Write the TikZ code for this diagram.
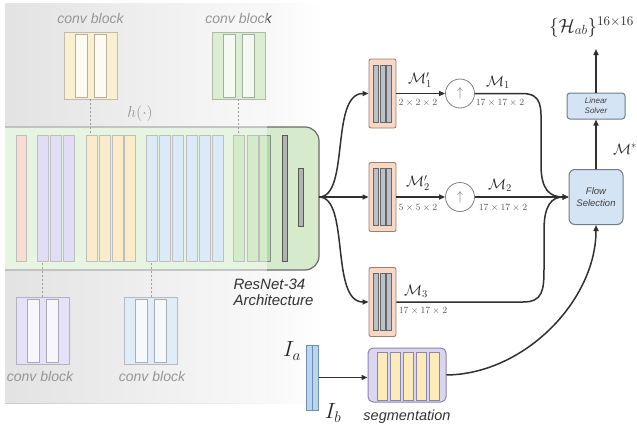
\RequirePackage{fix-cm}
\documentclass[tikz,border=0pt]{standalone}
\usepackage{fontspec}
\newfontfamily\arialf{Liberation Sans}
\usetikzlibrary{arrows.meta}
\definecolor{lc}{HTML}{303030}
\definecolor{ofill}{HTML}{F8D8C4}
\definecolor{obord}{HTML}{9A7F72}
\definecolor{gbar}{HTML}{BCC0C8}
\definecolor{fsfill}{HTML}{D4E4F4}
\definecolor{fsbord}{HTML}{6E7C8A}
\definecolor{segfill}{HTML}{DAD6F2}
\definecolor{segbord}{HTML}{8C86AE}
\definecolor{yel}{HTML}{FBEBB8}
\definecolor{ibfill}{HTML}{B8D6F0}
\definecolor{ibbord}{HTML}{6E8FB0}
\definecolor{rgreen}{HTML}{D5EBCB}
\definecolor{rbord}{HTML}{6A6A6A}
\definecolor{cOr}{HTML}{F2C2AE}
\definecolor{cPu}{HTML}{C8C2EE}
\definecolor{cYe}{HTML}{F6DE9E}
\definecolor{cBl}{HTML}{C0D8F0}
\definecolor{cGr}{HTML}{B2DCA0}
\definecolor{barl}{HTML}{8A8A8A}
\begin{document}
\begin{tikzpicture}[x=1pt,y=-1pt,
  rbar/.style={draw=barl, line width=0.8pt, minimum width=11pt, minimum height=126pt, inner sep=0pt},
  cblock/.style={line width=0.8pt, minimum width=53pt, minimum height=67pt, inner sep=0pt},
  cinner/.style={line width=0.8pt, minimum width=12pt, minimum height=63pt, inner sep=0pt},
  cbl/.style={font=\arialf\itshape\fontsize{14}{16}\selectfont, text=black!75},
  dlink/.style={draw=black!70, dash pattern=on 2pt off 2pt, line width=0.9pt},
  obox/.style={draw=obord, fill=ofill, rounded corners=2pt, minimum width=27pt, minimum height=69pt, line width=0.9pt, inner sep=0pt},
  obar/.style={draw=black!60, fill=gbar, minimum width=5pt, minimum height=57pt, inner sep=0pt, line width=0.6pt},
  flow/.style={-{Triangle[length=6pt,width=5pt]}, line width=1.5pt, draw=lc},
  upc/.style={circle, draw=black!50, fill=white, minimum size=29pt, inner sep=0pt, line width=0.8pt, text=black!55, font=\fontsize{13}{15}\selectfont},
  mlab/.style={font=\fontsize{15}{18}\selectfont, text=black!85, inner sep=0pt},
  dlab/.style={font=\fontsize{9.5}{11}\selectfont, text=black!65, inner sep=0pt},
  rbox/.style={draw=fsbord, fill=fsfill, line width=1pt, inner sep=0pt, text=black!75}]
\useasboundingbox (0,0) rectangle (637,431);
% background
\shade[left color=black!20, right color=black!4] (5,3) rectangle (267,403);
\shade[left color=black!3, right color=white] (267,3) rectangle (322,403);
% ResNet box
\begin{scope}
\clip (5,0) rectangle (400,431);
\draw[fill=rgreen, draw=rbord, line width=1.2pt, rounded corners=14pt] (-20,127) rectangle (319,270);
\end{scope}
% bars
\node[rbar, fill=cOr, minimum width=10pt] (b0) at (21,198) {};
\foreach \x [count=\i] in {42.5,55.5,68.5} \node[rbar, fill=cPu] (bp\i) at (\x,198) {};
\foreach \x [count=\i] in {91.5,104.5,117.5,130} \node[rbar, fill=cYe] (by\i) at (\x,198) {};
\foreach \x [count=\i] in {151.5,164.5,177.5,191.5,204.5,217.5} \node[rbar, fill=cBl] (bb\i) at (\x,198) {};
\foreach \x [count=\i] in {238.5,252.5,265} \node[rbar, fill=cGr] (bg\i) at (\x,198) {};
\node[rbar, fill=black!30, draw=black!65, minimum width=5pt] (t1) at (284.5,198) {};
\node[rbar, fill=black!30, draw=black!65, minimum width=5pt, minimum height=58pt] (t2) at (300.5,197) {};
% conv blocks
\node[cblock, fill=cYe!85, draw=cYe!60!black] (cy) at (90.5,65.5) {};
\node[cinner, fill=cYe!25, draw=cYe!50!black] (cy1) at (81,65.5) {};
\node[cinner, fill=cYe!25, draw=cYe!50!black] (cy2) at (100,65.5) {};
\node[cblock, fill=cGr!85, draw=cGr!60!black] (cg) at (238.5,65.5) {};
\node[cinner, fill=cGr!25, draw=cGr!50!black] (cg1) at (229,65.5) {};
\node[cinner, fill=cGr!25, draw=cGr!50!black] (cg2) at (248,65.5) {};
\node[cblock, fill=cPu!85, draw=cPu!60!black] (cp) at (42.5,331) {};
\node[cinner, fill=cPu!25, draw=cPu!50!black] (cp1) at (33,331) {};
\node[cinner, fill=cPu!25, draw=cPu!50!black] (cp2) at (52,331) {};
\node[cblock, fill=cBl!85, draw=cBl!60!black] (cb) at (151,331) {};
\node[cinner, fill=cBl!25, draw=cBl!50!black] (cb1) at (141.5,331) {};
\node[cinner, fill=cBl!25, draw=cBl!50!black] (cb2) at (160.5,331) {};
\node[cbl] (lcy) at (90.5,18) {conv block};
\node[cbl] (lcg) at (238.5,18) {conv block};
\node[cbl] (lcp) at (40,376) {conv block};
\node[cbl] (lcb) at (152,376) {conv block};
\draw[dlink] (cy.south) -- (cy.south |- by1.north);
\draw[dlink] (cg.south) -- (cg.south |- bg1.north);
\draw[dlink] (cp.north) -- (cp.north |- bp1.south);
\draw[dlink] (cb.north) -- (cb.north |- bb1.south);
\node[font=\fontsize{16}{18}\selectfont, text=black!75] (hlab) at (140,113) {$h(\cdot)$};
% overlay
\fill[white, fill opacity=0.45] (5,3) rectangle (267,403);
% architecture label
\node[font=\arialf\itshape\fontsize{15}{16}\selectfont, text=black!80, align=left, anchor=west] (arch) at (230,292) {ResNet-34\\Architecture};
% right branch boxes
\coordinate (fork) at (319,197);
\foreach \n/\y in {1/93.5,2/197,3/302}{
  \node[obox] (o\n) at (382.5,\y) {};
  \node[obar] (o\n a) at (376,\y) {};
  \node[obar] (o\n b) at (382.5,\y) {};
  \node[obar] (o\n c) at (389,\y) {};
}
\draw[flow] (fork) .. controls (350,197) and (330,93.5) .. (o1.west);
\draw[flow] (fork) -- (o2.west);
\draw[flow] (fork) .. controls (350,197) and (330,302) .. (o3.west);
% upsampling
\node[upc] (c1) at (460,93.5) {$\uparrow$};
\node[upc] (c2) at (460,197) {$\uparrow$};
\draw[flow] (o1.east) -- (c1.west);
\draw[flow] (o2.east) -- (c2.west);
% flow selection and solver
\node[rbox, rounded corners=6pt, minimum width=54pt, minimum height=55pt, align=center, font=\arialf\itshape\fontsize{9.5}{12.5}\selectfont] (fs) at (596,197) {Flow\\Selection};
\node[rbox, rounded corners=3pt, minimum width=58pt, minimum height=26pt, align=center, font=\arialf\itshape\fontsize{8}{10}\selectfont] (ls) at (596,106) {Linear\\Solver};
\draw[flow] (c1.east) -- (522,93.5) .. controls (543,93.5) and (541,108) .. (541,128) -- (541,165) .. controls (541,190) and (550,197) .. (fs.west);
\draw[flow] (c2.east) -- (fs.west);
\draw[flow] (o3.east) -- (523,302) .. controls (543,302) and (544,290) .. (544,268) -- (544,230) .. controls (544,205) and (552,197) .. (fs.west);
\draw[flow] (fs.north) -- (ls.south);
\coordinate (hend) at (596,49);
\draw[flow] (ls.north) -- (hend);
\node[font=\fontsize{19}{22}\selectfont, anchor=base west, inner sep=0pt, text=black!85] (hab) at (549,32) {$\{\mathcal{H}_{ab}\}^{16\times 16}$};
\node[font=\fontsize{15}{18}\selectfont, text=black!85] (mstar) at (625,149) {$\mathcal{M}^*$};
% labels
\node[mlab] (lm1p) at (420,80) {$\mathcal{M}'_1$};
\node[dlab] (d1p) at (418,103) {$2\times2\times2$};
\node[mlab] (lm1) at (498,82) {$\mathcal{M}_1$};
\node[dlab] (d1) at (500,103) {$17\times17\times2$};
\node[mlab] (lm2p) at (418,183) {$\mathcal{M}'_2$};
\node[dlab] (d2p) at (418,208) {$5\times5\times2$};
\node[mlab] (lm2) at (500,185) {$\mathcal{M}_2$};
\node[dlab] (d2) at (503,208) {$17\times17\times2$};
\node[mlab] (lm3) at (416,291) {$\mathcal{M}_3$};
\node[dlab] (d3) at (423,311) {$17\times17\times2$};
% segmentation
\node[draw=segbord, fill=segfill, rounded corners=5pt, line width=1pt, minimum width=78pt, minimum height=54pt, inner sep=0pt] (seg) at (407,375) {};
\foreach \x [count=\i] in {382,395,408,421,434} \node[draw=segbord, fill=yel, line width=0.8pt, minimum width=10pt, minimum height=48pt, inner sep=0pt] (sb\i) at (\x,376) {};
\node[draw=ibbord, fill=ibfill, line width=0.8pt, minimum width=6pt, minimum height=65pt, inner sep=0pt] (ia) at (309,377.5) {};
\node[draw=ibbord, fill=ibfill, line width=0.8pt, minimum width=5.5pt, minimum height=65pt, inner sep=0pt] (ib) at (315.5,377.5) {};
\draw[flow] (ib.east) -- (seg.west |- ib.east);
\node[font=\fontsize{22}{24}\selectfont, text=black!85] (lia) at (292,351) {$I_a$};
\node[font=\fontsize{22}{24}\selectfont, text=black!85] (lib) at (333,413) {$I_b$};
\node[font=\arialf\itshape\fontsize{14.5}{16}\selectfont, text=black!80] (lseg) at (407,417) {segmentation};
\draw[flow] (seg.east) .. controls (525,374) and (596,300) .. (fs.south);
\end{tikzpicture}
\end{document}
